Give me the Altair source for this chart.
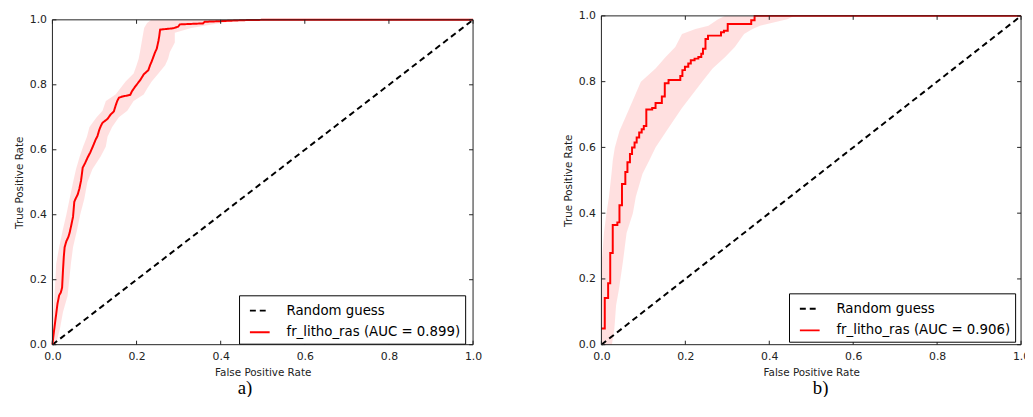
import altair as alt
import pandas as pd

# ---------------- data ----------------
RG = "Random guess"
LABEL_A = "fr_litho_ras (AUC = 0.899)"
LABEL_B = "fr_litho_ras (AUC = 0.906)"
CAP_A = "a)"
CAP_B = "b)"

diag_fpr = [0.0, 1.0]
diag_tpr = [0.0, 1.0]

a_fpr = [0.000, 0.002, 0.005, 0.009, 0.012, 0.016, 0.020, 0.023, 0.025, 0.027,
         0.029, 0.033, 0.038, 0.041, 0.045, 0.049, 0.052, 0.056, 0.060, 0.064,
         0.068, 0.072, 0.078, 0.084, 0.090, 0.096, 0.103, 0.107, 0.111, 0.115,
         0.119, 0.131, 0.138, 0.146, 0.150, 0.154, 0.158, 0.166, 0.174, 0.185,
         0.189, 0.197, 0.209, 0.217, 0.222, 0.228, 0.232, 0.236, 0.244, 0.248,
         0.252, 0.254, 0.256, 0.287, 0.299, 0.303, 0.358, 0.362, 0.401, 0.455,
         0.500, 1.000]
a_tpr = [0.000, 0.024, 0.055, 0.095, 0.126, 0.152, 0.161, 0.176, 0.227, 0.270,
         0.300, 0.318, 0.332, 0.345, 0.369, 0.394, 0.440, 0.452, 0.462, 0.480,
         0.505, 0.545, 0.560, 0.577, 0.592, 0.610, 0.632, 0.642, 0.660, 0.673,
         0.683, 0.695, 0.708, 0.718, 0.735, 0.750, 0.760, 0.764, 0.766, 0.769,
         0.780, 0.795, 0.815, 0.832, 0.838, 0.845, 0.860, 0.872, 0.900, 0.911,
         0.935, 0.950, 0.970, 0.974, 0.979, 0.986, 0.989, 0.994, 0.996, 0.999,
         1.000, 1.000]

a_band_tpr = [0.0, 0.05, 0.10, 0.15, 0.20, 0.25, 0.30, 0.35, 0.40, 0.45,
              0.50, 0.54, 0.58, 0.61, 0.64, 0.67, 0.70, 0.72, 0.75, 0.77,
              0.79, 0.81, 0.835, 0.86, 0.88, 0.90, 0.93, 0.96, 0.975, 0.99,
              1.0]
a_band_lo = [0.000, 0.000, 0.002, 0.005, 0.007, 0.009, 0.016, 0.024, 0.033, 0.041,
             0.049, 0.056, 0.065, 0.073, 0.082, 0.088, 0.105, 0.119, 0.127, 0.150,
             0.162, 0.174, 0.193, 0.200, 0.205, 0.208, 0.212, 0.216, 0.218, 0.225,
             0.235]
a_band_hi = [0.008, 0.018, 0.025, 0.036, 0.040, 0.044, 0.049, 0.058, 0.066, 0.076,
             0.083, 0.095, 0.115, 0.127, 0.131, 0.142, 0.158, 0.178, 0.193, 0.217,
             0.226, 0.236, 0.252, 0.268, 0.275, 0.279, 0.291, 0.291, 0.330, 0.400,
             0.450]

b_fpr = [0.000, 0.008, 0.016, 0.021, 0.027, 0.038, 0.043, 0.049, 0.057, 0.062,
         0.068, 0.073, 0.079, 0.084, 0.090, 0.096, 0.101, 0.107, 0.121, 0.129,
         0.144, 0.151, 0.160, 0.188, 0.193, 0.199, 0.207, 0.213, 0.222, 0.231,
         0.238, 0.242, 0.248, 0.254, 0.285, 0.292, 0.301, 0.357, 0.365, 1.000]
b_tpr = [0.049, 0.142, 0.187, 0.279, 0.364, 0.372, 0.424, 0.489, 0.525, 0.555,
         0.580, 0.600, 0.615, 0.630, 0.645, 0.655, 0.665, 0.715, 0.720, 0.735,
         0.755, 0.795, 0.805, 0.817, 0.835, 0.845, 0.855, 0.865, 0.870, 0.875,
         0.885, 0.900, 0.930, 0.940, 0.950, 0.955, 0.975, 0.987, 1.000, 1.000]

b_band_tpr = [0.0, 0.05, 0.12, 0.17, 0.25, 0.27, 0.34, 0.40, 0.45, 0.52,
              0.56, 0.60, 0.65, 0.72, 0.80, 0.84, 0.875, 0.905, 0.945, 0.96,
              0.97, 0.99, 1.0]
b_band_lo = [0.000, 0.000, 0.000, 0.000, 0.000, 0.002, 0.006, 0.012, 0.018, 0.024,
             0.027, 0.032, 0.043, 0.067, 0.094, 0.129, 0.153, 0.176, 0.192, 0.224,
             0.255, 0.278, 0.294]
b_band_hi = [0.025, 0.031, 0.035, 0.042, 0.051, 0.053, 0.060, 0.075, 0.082, 0.098,
             0.114, 0.129, 0.155, 0.192, 0.240, 0.265, 0.295, 0.318, 0.340, 0.360,
             0.378, 0.443, 0.459]

tick_values = [0.0, 0.2, 0.4, 0.6, 0.8, 1.0]

# ---------------- styling ----------------
FONT = "DejaVu Sans"
TXT = "#222222"
PANEL_H = 333


def main_axis(title, label_pad, title_pad):
    return alt.Axis(values=tick_values, format=".1f", title=title, grid=False,
                    domain=False, ticks=False,
                    labelFontSize=11, labelColor=TXT, labelPadding=label_pad,
                    labelFlush=False, labelOverlap=False, labelFont=FONT,
                    titleFont=FONT, titleFontSize=10.5, titleFontWeight="normal",
                    titleColor=TXT, titlePadding=title_pad)


def panel(fpr, tpr, band_t, band_lo, band_hi, label, caption, w, top_off,
          leg_x, leg_y, cap_x, cap_y, interp):
    h = PANEL_H
    xs = alt.Scale(domain=[0, 1], nice=False, zero=False)
    ys = alt.Scale(domain=[0, 1], nice=False, zero=False, range=[h, top_off])
    ax_x = main_axis("False Positive Rate", 6, 6)
    ax_y = main_axis("True Positive Rate", 6, 5)
    dom = [RG, label]
    leg = alt.Legend(orient="none", legendX=leg_x, legendY=leg_y, title=None,
                     symbolType="stroke", symbolSize=400, symbolStrokeWidth=2,
                     labelFontSize=13.5, labelFont=FONT, labelColor="black",
                     labelLimit=0, labelOffset=16, strokeColor="black",
                     fillColor="white", padding=4.5, rowPadding=4, cornerRadius=0,
                     symbolOffset=5.5)
    color = alt.Color("series:N", scale=alt.Scale(domain=dom, range=["black", "red"]),
                      legend=leg)
    dash = alt.StrokeDash("series:N", scale=alt.Scale(domain=dom, range=[[6, 4], [1, 0]]),
                          legend=leg)

    band_df = pd.DataFrame({"t": band_t, "lo": band_lo, "hi": band_hi})
    diag_df = pd.DataFrame({"fpr": diag_fpr, "tpr": diag_tpr, "series": [RG] * 2,
                            "idx": list(range(2))})
    roc_df = pd.DataFrame({"fpr": fpr, "tpr": tpr, "series": [label] * len(fpr),
                           "idx": list(range(len(fpr)))})
    tick_df = pd.DataFrame({"v": tick_values})
    frame_df = pd.DataFrame({"x0": [0.0], "x1": [1.0], "y0": [0.0], "y1": [1.0]})

    band = alt.Chart(band_df).mark_area(orient="horizontal", color="red",
                                        opacity=0.12).encode(
        y=alt.Y("t:Q", scale=ys, axis=ax_y),
        x=alt.X("lo:Q", scale=xs, axis=ax_x),
        x2="hi:Q",
    )
    diag = alt.Chart(diag_df).mark_line(strokeWidth=2).encode(
        x=alt.X("fpr:Q", scale=xs, axis=ax_x),
        y=alt.Y("tpr:Q", scale=ys, axis=ax_y),
        color=color, strokeDash=dash, order=alt.Order("idx:Q"),
    )
    roc = alt.Chart(roc_df).mark_line(strokeWidth=2, interpolate=interp).encode(
        x=alt.X("fpr:Q", scale=xs, axis=ax_x),
        y=alt.Y("tpr:Q", scale=ys, axis=ax_y),
        color=color, strokeDash=dash, order=alt.Order("idx:Q"),
    )
    frame = alt.Chart(frame_df).mark_rect(fillOpacity=0, stroke=TXT,
                                          strokeWidth=1).encode(
        x=alt.X("x0:Q", scale=xs, axis=ax_x), x2="x1:Q",
        y=alt.Y("y0:Q", scale=ys, axis=ax_y), y2="y1:Q",
    )
    tick_base = alt.Chart(tick_df).mark_rule(color=TXT, strokeWidth=1)
    t_bottom = tick_base.encode(x=alt.X("v:Q", scale=xs, axis=ax_x),
                                y=alt.value(h), y2=alt.value(h - 4))
    t_top = tick_base.encode(x=alt.X("v:Q", scale=xs, axis=ax_x),
                             y=alt.value(top_off), y2=alt.value(top_off + 4))
    t_left = tick_base.encode(y=alt.Y("v:Q", scale=ys, axis=ax_y),
                              x=alt.value(0), x2=alt.value(4))
    t_right = tick_base.encode(y=alt.Y("v:Q", scale=ys, axis=ax_y),
                               x=alt.value(w), x2=alt.value(w - 4))
    cap = alt.Chart(pd.DataFrame({"c": [caption]})).mark_text(
        font="Liberation Serif", fontSize=19, align="center", baseline="middle",
        color="black").encode(x=alt.value(cap_x), y=alt.value(cap_y), text="c:N")
    layers = [band, diag, roc, frame, t_bottom, t_top, t_left, t_right, cap]
    return alt.layer(*layers).properties(width=w, height=h)


left = panel(a_fpr, a_tpr, a_band_tpr, a_band_lo, a_band_hi, LABEL_A, CAP_A,
             426, 4, 189, 283, 195, 377, "linear")
right = panel(b_fpr, b_tpr, b_band_tpr, b_band_lo, b_band_hi, LABEL_B, CAP_B,
              425, 0, 190, 281, 222, 377, "step-after")

chart = alt.hconcat(left, right, spacing=82).resolve_scale(
    color="independent", strokeDash="independent"
).resolve_legend(
    color="independent", strokeDash="independent"
).properties(
    padding={"left": 6, "top": -0.5, "right": -5, "bottom": -3.5}
).configure(font=FONT).configure_view(stroke=None)

chart.save("out.html", embed_options={"renderer": "svg", "actions": False})
